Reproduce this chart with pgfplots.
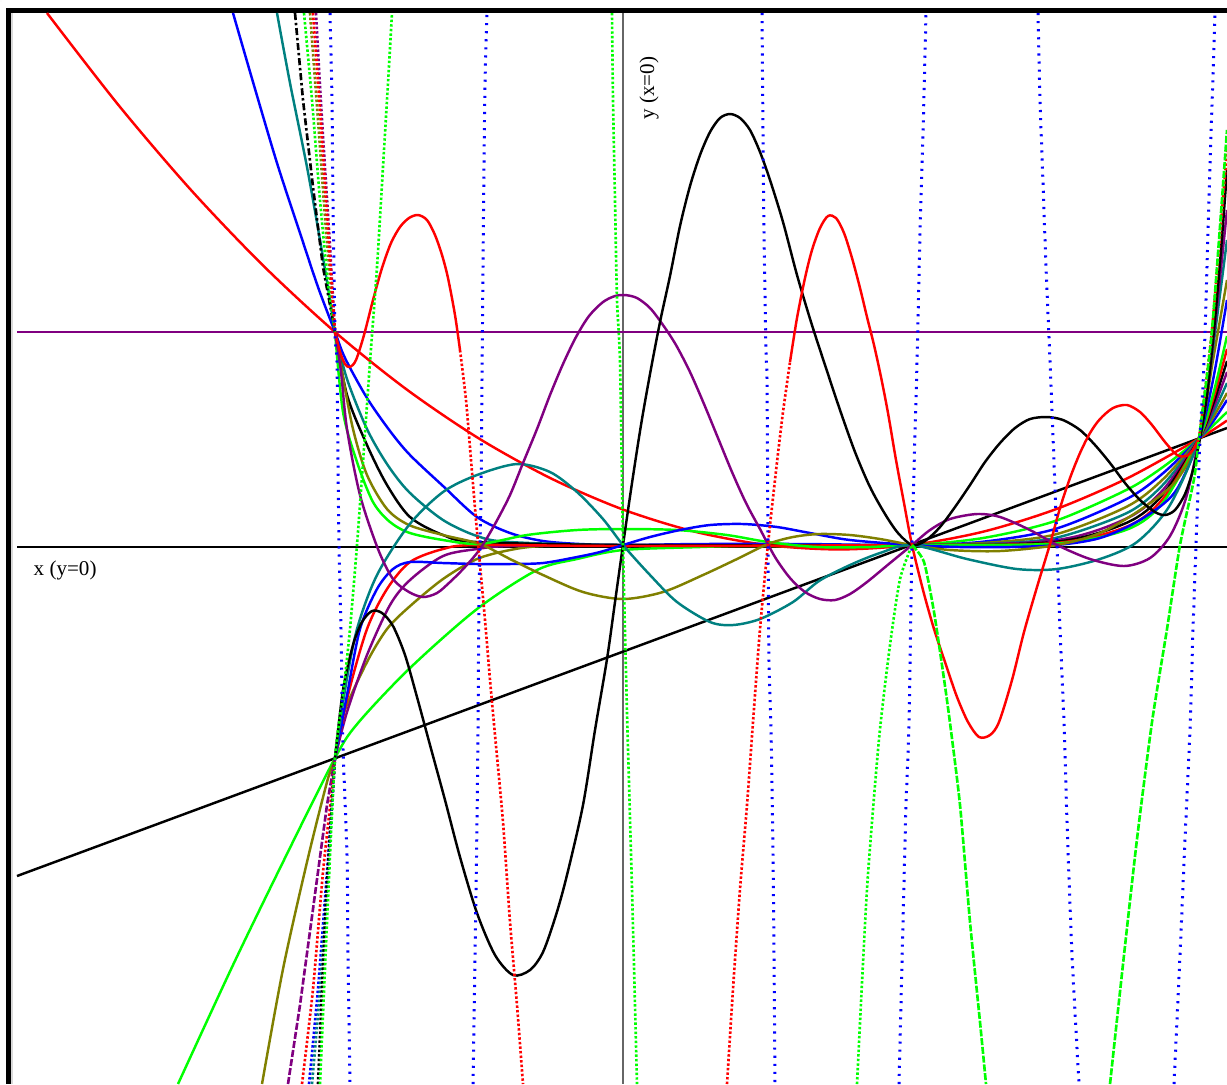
\documentclass[border=0pt]{standalone}
\usepackage{pgfplots}
\pgfplotsset{compat=1.18}
\usepackage{fontspec}
\setmainfont{Liberation Serif}
\definecolor{cpurple}{RGB}{128,0,128}
\definecolor{colive}{RGB}{128,128,0}
\definecolor{cteal}{RGB}{0,128,128}
\definecolor{cgreen}{RGB}{0,255,0}
\definecolor{cblue}{RGB}{0,0,255}
\definecolor{cred}{RGB}{255,0,0}
\definecolor{nearwhite}{RGB}{252,252,252}
\tikzset{
 sol/.style={line width=0.7pt, smooth, tension=0.5},
 dotA/.style={line width=0.85pt, smooth, tension=0.4, dash pattern=on 0.6pt off 1.7pt},
 dotB/.style={line width=0.75pt, smooth, tension=0.4, dash pattern=on 0.7pt off 0.6pt},
}
\begin{document}
\begin{tikzpicture}
\begin{axis}[scale only axis, width=12.27cm, height=10.84cm,
  xmin=0, xmax=1227, ymin=0, ymax=1084, y dir=reverse, axis lines=none]
% page corner marker and frame
\fill[nearwhite] (axis cs:0,0) rectangle (axis cs:2,2);
\path (axis cs:0,0) rectangle (axis cs:1227,1084);
\fill[black] (axis cs:6,8) rectangle (axis cs:11,1084);
\fill[black] (axis cs:6,8) rectangle (axis cs:1227,13);
\draw[black!15, line width=0.5pt] (axis cs:12,13) -- (axis cs:12,1084);
% axes
\addplot[black, line width=0.35pt] coordinates {(17,547) (1227,547)};
\addplot[black!60, line width=0.4pt] coordinates {(623,13) (623,1084)};
% n=0
\addplot[cpurple, line width=0.7pt] coordinates {(17,332) (1227,332)};
% n=1
\addplot[black, line width=0.7pt] coordinates {(17,876) (1227,428)};
% n=2
\addplot[cred, sol] coordinates {(47,13) (119,105.7) (191,190) (263,265.4) (335,332) (407,389.7) (479,438.5) (551,478.4) (623,509.5) (695,531.7) (767,545) (839,549.4) (911,545) (983,531.7) (1055,509.5) (1127,478.4) (1199,438.5) (1227,420.5)};
% n=3
\addplot[cgreen, sol] coordinates {(178,1084) (233,965) (283,862) (335,758) (358,723) (410,668) (477,609) (537,570) (577,559) (623,550) (700,547) (767,545) (840,546) (912,545) (983,538) (1055,521) (1127,489.6) (1163,467) (1199,438.5) (1227,412)};
% n=4
\addplot[cblue, sol] coordinates {(233,13) (253,82) (277,163) (300,233) (318,287) (335,332) (345,358) (367,398) (390,431) (410,455) (443,486) (477,517) (510,533) (543,541) (580,544) (623,545) (700,544) (800,544) (912,545) (983,541.7) (1055,529) (1127,498.8) (1163,473.2) (1199,438.5) (1213,421.6) (1227,400)};
% n=5
\addplot[colive, sol] coordinates {(262,1084) (283,969) (307,862) (327,782) (335,758) (343,715) (367,662) (387,629) (409,607) (443,579) (477,559) (510,550) (543,546) (623,545) (700,546) (800,546) (912,545) (983,543) (1055,534.5) (1127,506.5) (1163,479.2) (1199,438.5) (1213,417.5) (1227,393)};
% n=6
\addplot[cteal, sol] coordinates {(277,13) (290,83) (307,167) (320,240) (330,300) (335,332) (347,379) (367,429) (387,464) (409,492) (443,520) (477,536) (510,542) (623,545) (912,545) (983,544) (1055,538) (1127,512.9) (1163,484.7) (1199,438.5) (1213,413.3) (1227,383)};
% n=7
\addplot[cpurple, line width=0.75pt, dash pattern=on 2pt off 0.6pt] coordinates {(288,1084) (300,1005) (313,909) (327,805) (335,758)};
\addplot[cpurple, sol] coordinates {(335,758) (347,712) (367,655) (390,605) (410,580) (443,556) (477,549) (510,546) (623,545) (912,545) (1055,540.3) (1127,518.2) (1163,489.8) (1199,438.5) (1213,409) (1227,372)};
% n=8
\addplot[black, line width=0.75pt, dash pattern=on 2pt off 0.8pt on 0.7pt off 0.8pt] coordinates {(295,13) (303,100) (313,187) (323,267) (335,332)};
\addplot[black, sol] coordinates {(335,332) (347,395) (367,445) (387,485) (410,517) (443,535) (477,542) (623,545) (912,545) (1055,541.9) (1127,522.6) (1163,494.3) (1199,438.5) (1213,404.4) (1227,361)};
% n=9
\addplot[cred, dotB] coordinates {(302,1084) (313,989) (323,872) (332,789) (335,758)};
\addplot[cred, sol] coordinates {(335,758) (348,695) (367,629) (387,589) (410,562) (443,549) (477,545) (623,546) (912,545) (1055,543) (1127,526.5) (1163,498.6) (1199,438.5) (1213,399.6) (1227,349)};
% n=10
\addplot[cgreen, dotB] coordinates {(304,13) (312,100) (320,200) (328,283) (335,332)};
\addplot[cgreen, sol] coordinates {(335,332) (343,412) (357,462) (373,502) (390,522) (410,533) (443,540) (480,544) (527,535) (577,530) (623,529) (677,530) (727,535) (768,542) (817,547) (870,547) (912,545) (1055,543.6) (1127,529.5) (1163,502.4) (1199,438.5) (1213,394.8) (1227,336)};
% n=11
\addplot[cblue, dotB] coordinates {(309,1084) (318,989) (327,872) (333,789) (335,758)};
\addplot[cblue, sol] coordinates {(335,758) (347,695) (360,629) (377,589) (393,569) (410,562) (443,563) (477,564) (510,564) (543,563) (577,557) (600,552) (623,545) (650,537) (680,530) (710,525) (743,524) (777,527) (810,533) (850,540) (912,545) (960,547) (1010,547) (1057,545) (1100,538) (1140,520) (1175,492) (1199,438.5) (1213,380) (1227,300)};
% n=12
\addplot[colive, dotB] coordinates {(310,13) (318,120) (326,230) (335,332)};
\addplot[colive, sol] coordinates {(335,332) (342,372) (353,429) (367,475) (387,509) (409,525) (443,535) (480,544) (510,559) (543,575) (583,592) (623,599) (663,592) (703,575) (737,559) (768,544) (793,537) (819,534) (850,535) (880,539) (912,545) (950,550) (1000,551) (1057,545) (1100,533) (1140,510) (1175,482) (1199,438.5) (1213,360) (1227,280)};
% n=13
\addplot[cteal, dotB] coordinates {(312,1084) (320,990) (328,872) (335,758)};
\addplot[cteal, sol] coordinates {(335,758) (345,690) (357,629) (377,575) (409,525) (443,492) (477,475) (517,464) (550,472) (577,492) (603,519) (623,545) (650,575) (677,602) (710,622) (733,625) (760,619) (793,602) (819,581) (850,565) (880,553) (912,545) (967,559) (1017,569) (1057,569) (1100,559) (1137,542) (1170,505) (1199,438.5) (1210,370) (1227,240)};
% n=14
\addplot[cpurple, dotB] coordinates {(316,13) (322,120) (329,230) (335,332)};
\addplot[cpurple, sol] coordinates {(335,332) (341,372) (347,429) (360,495) (378,549) (393,579) (409,592) (423,597) (437,593) (450,582) (465,567) (480,549) (495,524) (510,495) (523,463) (537,429) (550,395) (563,364) (576,337) (589,316) (603,302) (615,296) (625,295) (637,298) (650,308) (663,325) (676,345) (690,372) (704,404) (718,438) (732,472) (746,503) (760,529) (775,557) (790,578) (805,592) (820,599) (835,600) (850,594) (867,582) (890,563) (912,545) (930,530) (950,519) (977,514) (1000,517) (1030,530) (1057,545) (1090,559) (1124,566) (1150,558) (1170,536) (1186,498) (1199,438.5) (1210,370) (1227,210)};
% n=15
\addplot[black, dotB] coordinates {(318,1084) (326,900) (335,758)};
\addplot[black, sol] coordinates {(335,758) (343,690) (353,645) (362,622) (372,611) (382,613) (393,626) (405,655) (417,697) (430,745) (445,800) (460,857) (477,913) (495,955) (513,975) (530,970) (543,952) (556,915) (567,875) (583,805) (595,730) (607,659) (615,602) (623,545) (632,483) (641,425) (650,374) (660,322) (670,276) (680,226) (690,186) (700,155) (710,132) (720,118) (730,114) (740,118) (750,130) (760,152) (770,180) (783,222) (797,275) (811,322) (825,365) (840,410) (855,452) (870,487) (885,514) (898,533) (912,545) (925,541) (940,527) (955,507) (970,485) (985,462) (1000,443) (1015,428) (1030,419) (1047,417) (1063,420) (1080,430) (1095,445) (1110,463) (1125,483) (1140,500) (1155,512) (1165,515) (1175,510) (1185,494) (1193,470) (1200,438.5) (1207,395) (1214,330) (1221,250) (1227,170)};
% n=16
\addplot[cred, dotB] coordinates {(313,13) (320,110) (328,230) (335,332)};
\addplot[cred, sol] coordinates {(335,332) (340,352) (345,364) (350,367) (356,360) (364,335) (373,300) (382,268) (391,243) (400,227) (409,218) (418,215) (427,220) (435,235) (442,255) (448,278) (455,315) (460,350)};
\addplot[cred, dotB] coordinates {(460,350) (466,400) (471,460) (476,520) (480,565) (485,620) (490,680) (495,735) (503,822) (510,922) (517,1005) (523,1084)};
\addplot[cred, dotB] coordinates {(727,1084) (733,989) (740,889) (747,805) (753,722) (760,629) (768,544) (777,462) (783,412) (790,362)};
\addplot[cred, sol] coordinates {(790,362) (797,318) (805,278) (812,250) (820,228) (828,216) (836,218) (844,233) (852,258) (860,288) (867,317) (874,345) (881,377) (888,413) (896,460) (904,503) (912,545) (923,590) (934,629) (946,665) (957,697) (968,722) (979,737) (990,735) (999,722) (1012,680) (1024,632) (1037,587) (1050,544) (1060,508) (1070,478) (1080,453) (1090,433) (1100,419) (1113,408) (1127,405) (1140,412) (1152,425) (1165,442) (1177,455) (1186,456) (1193,450) (1199,438.5)};
\addplot[cred, dotB] coordinates {(1199,438.5) (1212,330) (1227,150)};
% n=17
\addplot[cgreen, dotB] coordinates {(320,1084) (328,900) (335,758) (343,695) (350,629) (357,545) (363,462) (370,362) (377,267) (383,167) (388,83) (392,13)};
\addplot[cgreen, dotB] coordinates {(612,13) (613,100) (615,200) (617,300) (620,362) (623,544) (627,712) (632,889) (637,1084)};
\addplot[cgreen, dotB] coordinates {(857,1084) (867,889) (879,739) (890,645) (900,579) (912,545)};
\addplot[cgreen, line width=0.75pt, smooth, tension=0.4, dash pattern=on 2pt off 0.5pt] coordinates {(912,545) (924,562) (934,612) (944,679) (950,723) (960,805) (970,922) (980,1022) (986,1084)};
\addplot[cgreen, line width=0.75pt, smooth, tension=0.4, dash pattern=on 2pt off 0.5pt] coordinates {(1110,1084) (1124,955) (1137,839) (1152,722) (1167,629) (1180,545) (1194,479) (1199,438.5) (1212,330) (1227,130)};
% n=18
\addplot[cblue, dotA] coordinates {(330,13) (332,100) (333,200) (335,332) (337,362) (338,462) (339,545) (341,629) (342,695) (343,749) (347,855) (348,955) (350,1084)};
\addplot[cblue, dotA] coordinates {(473,1084) (475,955) (477,822) (478,729) (479,592) (480,544) (481,495) (482,379) (483,267) (484,167) (485,83) (487,13)};
\addplot[cblue, dotA] coordinates {(762,13) (763,133) (764,233) (766,353) (767,379) (768,544) (769,662) (771,729) (773,855) (774,955) (775,1084)};
\addplot[cblue, dotA] coordinates {(899,1084) (903,922) (906,805) (909,723) (912,545) (917,362) (920,233) (923,133) (926,13)};
\addplot[cblue, dotA] coordinates {(1038,13) (1040,100) (1043,183) (1046,267) (1050,361) (1054,462) (1057,544) (1060,629) (1064,723) (1067,822) (1072,955) (1079,1084)};
\addplot[cblue, dotA] coordinates {(1174,1084) (1180,955) (1185,839) (1190,729) (1193,629) (1196,545) (1200,439) (1204,362) (1210,167) (1215,13)};
% labels
\node[anchor=west, inner sep=0pt, font=\fontsize{6}{7}\selectfont] at (axis cs:33,570) {x (y=0)};
\node[rotate=90, inner sep=0pt, font=\fontsize{6}{7}\selectfont] at (axis cs:649,88) {y (x=0)};
\end{axis}
\path (current axis.south west) rectangle (current axis.north east);
\end{tikzpicture}
\end{document}
